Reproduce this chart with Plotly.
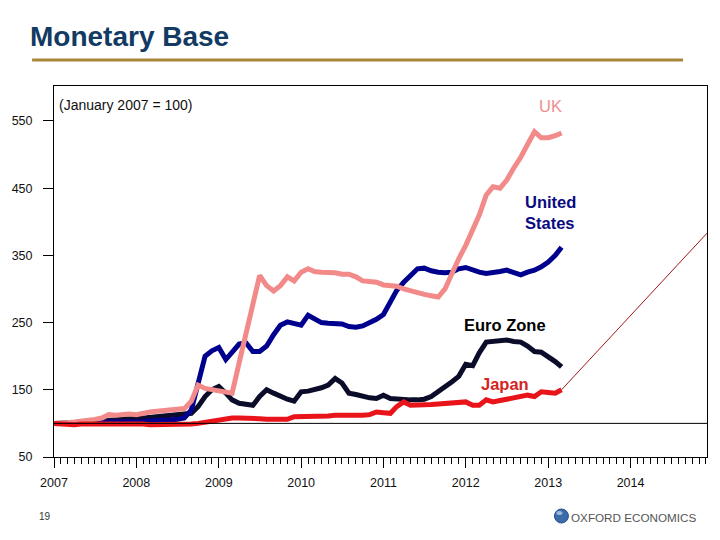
import pandas as pd
import plotly.graph_objects as go

# ---------------- data (monthly index, January 2007 = 100) ----------------
months = pd.date_range("2007-01-01", periods=75, freq="MS")

uk = [100, 100, 101, 102, 103, 104, 106, 108, 113, 112, 113, 114,
      113, 116, 117, 118, 119, 120, 121, 122, 133, 157, 152, 150,
      148, 146, 145, 190, 235, 280, 320, 305, 297, 305, 318, 312,
      325, 330, 326, 325, 325, 324, 322, 322, 318, 312, 311, 310,
      306, 305, 304, 300, 297, 295, 292, 290, 288, 300, 325, 345,
      365, 388, 410, 440, 452, 450, 462, 480, 496, 515, 534, 525,
      525, 528, 532]

us = [100, 100, 101, 101, 101, 101, 102, 102, 102, 102, 103, 103,
      103, 103, 104, 104, 104, 105, 106, 108, 120, 160, 200, 208,
      213, 195, 205, 218, 220, 207, 207, 215, 232, 246, 251, 248,
      246, 261, 256, 250, 249, 249, 248, 244, 243, 245, 250, 255,
      262, 280, 298, 310, 320, 330, 331, 327, 325, 324, 325, 330,
      332, 328, 325, 323, 324, 326, 328, 324, 321, 325, 328, 333,
      340, 350, 362]

euro = [100, 100, 100, 101, 101, 102, 103, 104, 105, 106, 106, 107,
        107, 108, 109, 110, 111, 112, 113, 113, 115, 125, 140, 150,
        155, 145, 135, 130, 129, 127, 140, 150, 145, 140, 136, 133,
        147, 148, 150, 153, 157, 167, 160, 145, 143, 140, 138, 137,
        142, 137, 136, 136, 135, 135, 136, 140, 147, 155, 162, 170,
        188, 186, 205, 221, 222, 223, 224, 222, 221, 215, 207, 206,
        200, 192, 184]

japan = [100, 99, 98, 98, 99, 99, 100, 99, 99, 100, 100, 99,
         100, 99, 98, 98, 98, 98, 99, 99, 99, 100, 102, 104,
         106, 107, 108, 108, 108, 107, 107, 106, 106, 105, 106, 110,
         110, 110, 110, 111, 111, 112, 112, 112, 111, 112, 113, 117,
         116, 115, 125, 132, 127, 127, 127, 128, 129, 130, 130, 131,
         132, 127, 127, 135, 132, 134, 136, 138, 140, 142, 140, 147,
         146, 145, 150]

# thin projection-like line leaving the Japan series
proj_x = ["2013-03-01", "2014-12-06"]
proj_y = [150, 383]

baseline = 100
y_ticks = [50, 150, 250, 350, 450, 550]
y_range = [50, 602]
x_range = ["2007-01-01", "2014-12-06"]

# ---------------- layout helpers (pixel -> paper) ----------------
L, R, T, B = 53, 708, 86, 457
W, H = R - L, B - T


def px(x):
    return (x - L) / W


def py(y):
    return (B - y) / H


FONT = "Liberation Sans, Arial, sans-serif"

fig = go.Figure()

fig.add_trace(go.Scatter(x=proj_x, y=proj_y, mode="lines",
                         line=dict(color="#A01818", width=1),
                         showlegend=False, hoverinfo="skip"))
fig.add_trace(go.Scatter(x=months, y=euro, mode="lines", name="Euro Zone",
                         line=dict(color="#0B0B2A", width=5), showlegend=False))
fig.add_trace(go.Scatter(x=months, y=us, mode="lines", name="United States",
                         line=dict(color="#00008E", width=5), showlegend=False))
fig.add_trace(go.Scatter(x=months, y=uk, mode="lines", name="UK",
                         line=dict(color="#F38A8A", width=5), showlegend=False))
fig.add_trace(go.Scatter(x=months, y=japan, mode="lines", name="Japan",
                         line=dict(color="#E8141A", width=5), showlegend=False))

annotations = [
    dict(text="<b>Monetary Base</b>", x=px(27), y=py(36), xanchor="left", yanchor="middle",
         font=dict(family=FONT, size=28, color="#123A63"), showarrow=False),
    dict(text="(January 2007 = 100)", x=px(56), y=py(105), xanchor="left", yanchor="middle",
         font=dict(family=FONT, size=14, color="#111111"), showarrow=False),
    dict(text="UK", x=px(551), y=py(106), xanchor="center", yanchor="middle",
         font=dict(family=FONT, size=16.5, color="#EE8E8E"), showarrow=False),
    dict(text="<b>United<br>States</b>", x=px(523), y=py(212), xanchor="left", yanchor="middle",
         align="left", font=dict(family=FONT, size=16.5, color="#0A0A80"), showarrow=False),
    dict(text="<b>Euro Zone</b>", x=px(505), y=py(325), xanchor="center", yanchor="middle",
         font=dict(family=FONT, size=16.5, color="#000000"), showarrow=False),
    dict(text="<b>Japan</b>", x=px(505), y=py(384), xanchor="center", yanchor="middle",
         font=dict(family=FONT, size=16.5, color="#D42424"), showarrow=False),
    dict(text="19", x=px(36), y=py(516), xanchor="left", yanchor="middle",
         font=dict(family=FONT, size=10, color="#333333"), showarrow=False),
    dict(text="OXFORD ECONOMICS", x=px(570), y=py(517), xanchor="left", yanchor="middle",
         font=dict(family=FONT, size=11.7, color="#555555"), showarrow=False),
]
for a in annotations:
    a["xref"] = "paper"
    a["yref"] = "paper"

shapes = [
    dict(type="line", xref="paper", yref="y", x0=0, x1=1, y0=baseline, y1=baseline,
         line=dict(color="black", width=1)),
    dict(type="line", xref="paper", yref="paper", x0=px(31), x1=px(684), y0=py(60), y1=py(60),
         line=dict(color="#A8863A", width=3)),
    dict(type="circle", xref="paper", yref="paper", x0=px(555), x1=px(569), y0=py(523), y1=py(509),
         fillcolor="#3C6BAA", line=dict(color="#24508C", width=1)),
    dict(type="circle", xref="paper", yref="paper", x0=px(557), x1=px(563), y0=py(515), y1=py(511),
         fillcolor="#9DB8DC", line=dict(width=0)),
]

fig.update_layout(
    width=720, height=540,
    margin=dict(l=L, r=720 - R, t=T, b=540 - B),
    paper_bgcolor="white", plot_bgcolor="white",
    font=dict(family=FONT, size=12.5, color="#111111"),
    annotations=annotations, shapes=shapes,
    showlegend=False,
)

fig.update_xaxes(
    type="date", range=x_range, showgrid=False, zeroline=False,
    showline=True, linecolor="black", linewidth=1, mirror=True,
    ticks="outside", ticklen=10, tickcolor="black", tickwidth=1,
    dtick="M12", tick0="2007-01-01", tickformat="%Y",
    ticklabelstandoff=4,
    tickfont=dict(family=FONT, size=12.5, color="#111111"),
    minor=dict(dtick="M1", tick0="2007-01-01", ticks="outside", ticklen=6,
               tickcolor="black", tickwidth=1, showgrid=False),
)
fig.update_yaxes(
    range=y_range, showgrid=False, zeroline=False,
    showline=True, linecolor="black", linewidth=1, mirror=True,
    ticks="outside", ticklen=10, tickcolor="black", tickwidth=1,
    tickvals=y_ticks, ticklabelstandoff=8,
    tickfont=dict(family=FONT, size=12.5, color="#111111"),
)

fig.write_html("out.html")
